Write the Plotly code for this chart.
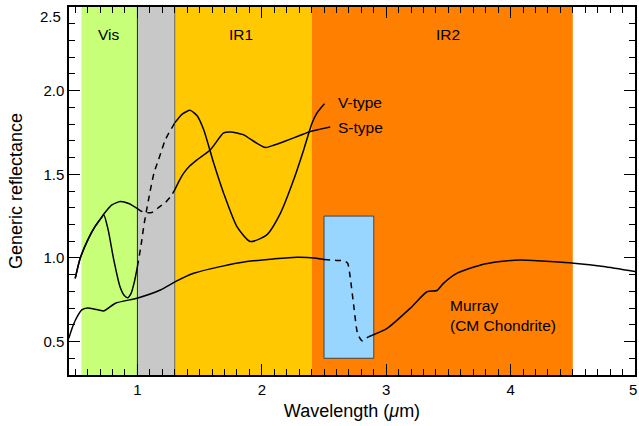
import plotly.graph_objects as go

# ---- data ----
v_x1 = [0.50, 0.54, 0.608, 0.66, 0.705, 0.73, 0.765, 0.81, 0.86, 0.895, 0.92, 0.95, 0.975, 1.0]
v_y1 = [0.878, 0.998, 1.118, 1.188, 1.235, 1.257, 1.168, 0.988, 0.828, 0.775, 0.762, 0.79, 0.855, 0.948]
v_xd = [1.0, 1.03, 1.055, 1.10, 1.133, 1.17, 1.225, 1.3]
v_yd = [0.948, 1.08, 1.208, 1.39, 1.507, 1.587, 1.707, 1.807]
v_x2 = [1.3, 1.36, 1.425, 1.48, 1.533, 1.613, 1.693, 1.80, 1.907, 2.04, 2.15, 2.256, 2.337, 2.404, 2.444, 2.503]
v_y2 = [1.807, 1.86, 1.882, 1.85, 1.766, 1.567, 1.387, 1.187, 1.098, 1.138, 1.268, 1.467, 1.647, 1.807, 1.867, 1.922]

s_x1 = [0.50, 0.54, 0.608, 0.66, 0.705, 0.73, 0.795, 0.862, 0.93, 1.0]
s_y1 = [0.878, 0.998, 1.118, 1.188, 1.235, 1.262, 1.317, 1.337, 1.325, 1.295]
s_xd = [1.0, 1.03, 1.06, 1.114, 1.18, 1.22, 1.27, 1.3]
s_yd = [1.295, 1.28, 1.271, 1.271, 1.307, 1.327, 1.37, 1.407]
s_x2 = [1.3, 1.34, 1.372, 1.42, 1.48, 1.587, 1.693, 1.75, 1.85, 1.95, 2.03, 2.1, 2.18, 2.3, 2.39, 2.47, 2.55]
s_y2 = [1.407, 1.467, 1.507, 1.55, 1.587, 1.647, 1.747, 1.753, 1.737, 1.69, 1.66, 1.675, 1.696, 1.73, 1.756, 1.77, 1.783]

m_x1 = [0.448, 0.475, 0.502, 0.553, 0.60, 0.65, 0.73, 0.823, 0.997, 1.185, 1.305, 1.452, 1.666, 1.88, 2.094, 2.28, 2.44, 2.50]
m_y1 = [0.519, 0.58, 0.629, 0.689, 0.70, 0.695, 0.683, 0.729, 0.759, 0.808, 0.858, 0.908, 0.948, 0.978, 0.994, 1.004, 0.998, 0.99]
m_xd = [2.50, 2.6, 2.657, 2.69, 2.71, 2.74, 2.77, 2.806, 2.84, 2.859]
m_yd = [0.99, 0.985, 0.984, 0.968, 0.888, 0.708, 0.548, 0.505, 0.52, 0.529]
m_x2 = [2.859, 3.007, 3.194, 3.328, 3.408, 3.46, 3.567, 3.76, 3.917, 4.078, 4.32, 4.507, 4.747, 5.0]
m_y2 = [0.529, 0.579, 0.70, 0.798, 0.805, 0.848, 0.908, 0.958, 0.978, 0.988, 0.978, 0.968, 0.948, 0.918]

band_names = ["Vis", "", "IR1", "IR2"]
band_x0 = [0.55, 1.0, 1.3, 2.4]
band_x1 = [1.0, 1.3, 2.4, 4.5]
band_colors = ["#c8ff78", "#c8c8c8", "#ffc800", "#ff7f00"]
band_label_x = [0.775, 1.15, 1.83, 3.5]

box_x = [2.5, 2.9]
box_y = [0.4, 1.25]

x_range = [0.45, 5]
y_range = [0.3, 2.5]
x_ticks = [1, 2, 3, 4, 5]
y_ticks = [0.5, 1.0, 1.5, 2.0, 2.5]

FONT = "Liberation Sans, Arial, Helvetica, sans-serif"
TICKFONT = 15
LABELFONT = 15.5

fig = go.Figure()

line_solid = dict(color="black", width=1.5, shape="spline", smoothing=0.6)
line_dash = dict(color="black", width=1.5, dash="6px,5px", shape="spline", smoothing=0.6)

for xs, ys, ln in [
    (v_x1, v_y1, line_solid), (v_xd, v_yd, line_dash), (v_x2, v_y2, line_solid),
    (s_x1, s_y1, line_solid), (s_xd, s_yd, line_dash), (s_x2, s_y2, line_solid),
    (m_x1, m_y1, line_solid), (m_xd, m_yd, line_dash), (m_x2, m_y2, line_solid),
]:
    fig.add_trace(go.Scatter(x=xs, y=ys, mode="lines", line=ln, showlegend=False, hoverinfo="skip"))

# invisible trace to activate mirrored axes (top/right) carrying minor ticks
fig.add_trace(go.Scatter(x=[x_range[0]], y=[y_range[0]], xaxis="x2", yaxis="y2", mode="markers",
                         marker=dict(opacity=0), showlegend=False, hoverinfo="skip"))

shapes = []
for x0, x1, c in zip(band_x0, band_x1, band_colors):
    shapes.append(dict(type="rect", xref="x", yref="paper", x0=x0, x1=x1, y0=0, y1=1,
                       fillcolor=c, line=dict(width=0), layer="below"))
shapes.append(dict(type="line", xref="x", yref="paper", x0=1.0, x1=1.0, y0=0, y1=1,
                   line=dict(color="#222222", width=1), layer="below"))
shapes.append(dict(type="line", xref="x", yref="paper", x0=1.3, x1=1.3, y0=0, y1=1,
                   line=dict(color="#666666", width=1), layer="below"))
shapes.append(dict(type="rect", xref="x", yref="y", x0=box_x[0], x1=box_x[1], y0=box_y[0], y1=box_y[1],
                   fillcolor="#99d6ff", line=dict(color="#444444", width=1), layer="below"))

annotations = []
for name, lx in zip(band_names, band_label_x):
    if name:
        annotations.append(dict(x=lx, y=2.335, xref="x", yref="y", text=name, showarrow=False,
                                font=dict(family=FONT, size=LABELFONT, color="black")))
annotations.append(dict(x=2.6, y=1.928, xref="x", yref="y", text="V-type", showarrow=False,
                        xanchor="left", font=dict(family=FONT, size=LABELFONT, color="black")))
annotations.append(dict(x=2.6, y=1.778, xref="x", yref="y", text="S-type", showarrow=False,
                        xanchor="left", font=dict(family=FONT, size=LABELFONT, color="black")))
annotations.append(dict(x=3.5, y=0.653, xref="x", yref="y", text="Murray<br>(CM Chondrite)", showarrow=False,
                        xanchor="left", align="left", font=dict(family=FONT, size=LABELFONT, color="black")))
# edge tick labels (placed like the original, nudged inside the page)
annotations.append(dict(x=0, y=y_ticks[-1], xref="paper", yref="y", text="%.1f" % y_ticks[-1], showarrow=False,
                        xanchor="right", yanchor="middle", xshift=-6, yshift=-9,
                        font=dict(family=FONT, size=TICKFONT, color="black")))
annotations.append(dict(x=x_ticks[-1], y=0, xref="x", yref="paper", text=str(x_ticks[-1]), showarrow=False,
                        xanchor="right", yanchor="top", xshift=4, yshift=-4,
                        font=dict(family=FONT, size=TICKFONT, color="black")))

common = dict(ticks="inside", ticklen=11, tickwidth=1, tickcolor="black",
              showline=True, linecolor="black", linewidth=1.5,
              showgrid=False, zeroline=False, automargin=False)

fig.update_layout(
    width=639, height=426,
    margin=dict(l=69, r=4, t=7, b=51),
    paper_bgcolor="white", plot_bgcolor="white",
    font=dict(family=FONT, size=TICKFONT, color="black"),
    shapes=shapes, annotations=annotations,
    xaxis=dict(range=x_range, tickvals=x_ticks,
               ticktext=[str(v) for v in x_ticks[:-1]] + [""],
               minor=dict(dtick=0.1, ticks="inside", ticklen=6, tickcolor="black", showgrid=False),
               tickfont=dict(size=TICKFONT),
               title=dict(text="Wavelength (<i>μ</i>m)", font=dict(size=18), standoff=8),
               **common),
    yaxis=dict(range=y_range, tickvals=y_ticks,
               ticktext=["%.1f" % v for v in y_ticks[:-1]] + [""],
               minor=dict(dtick=0.1, ticks="inside", ticklen=6, tickcolor="black", showgrid=False),
               tickfont=dict(size=TICKFONT),
               title=dict(text="Generic reflectance", font=dict(size=18), standoff=16),
               **common),
    xaxis2=dict(range=x_range, overlaying="x", side="top", tickvals=x_ticks, showticklabels=False,
                minor=dict(dtick=0.1, ticks="inside", ticklen=6, tickcolor="black", showgrid=False),
                **common),
    yaxis2=dict(range=y_range, overlaying="y", side="right", tickvals=y_ticks, showticklabels=False,
                minor=dict(dtick=0.1, ticks="inside", ticklen=6, tickcolor="black", showgrid=False),
                **common),
)

fig.write_html("out.html", config={"displayModeBar": False},
               post_script="document.body.style.margin='0';")
